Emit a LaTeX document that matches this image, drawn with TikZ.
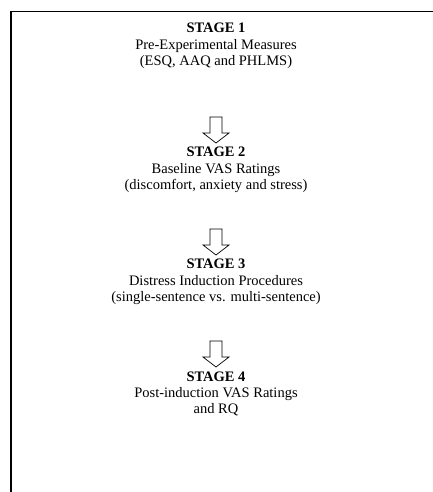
\documentclass[tikz,border=0pt]{standalone}
\usepackage{fontspec}
\setmainfont{Liberation Serif}
\begin{document}
\begin{tikzpicture}[x=1pt,y=1pt,
  stagetext/.style={align=center,inner sep=0pt,font=\fontsize{14.5}{16.2}\selectfont},
  blockarrow/.style={draw=black,line width=0.7pt,fill=white}]
\useasboundingbox (0,0) rectangle (433,-492);
\draw[line width=1.8pt] (433,-11.5) -- (11,-11.5) -- (11,-492);
\def\cx{216}
\node[stagetext,anchor=north] (s1) at (\cx,-23) {\textbf{STAGE 1}\\Pre-Experimental Measures\\(ESQ, AAQ and PHLMS)};
\node[stagetext,anchor=north] (s2) at (\cx,-147) {\textbf{STAGE 2}\\Baseline VAS Ratings\\(discomfort, anxiety and stress)};
\node[stagetext,anchor=north] (s3) at (\cx,-259) {\textbf{STAGE 3}\\Distress Induction Procedures\\(single-sentence vs. multi-sentence)};
\node[stagetext,anchor=north] (s4) at (\cx,-371.5) {\textbf{STAGE 4}\\Post-induction VAS Ratings\\and RQ};
\foreach \y [count=\i] in {117,229,341}{
  \draw[blockarrow] (\cx-6,-\y) -- (\cx+6,-\y) -- (\cx+6,-\y-16) -- (\cx+13,-\y-16) -- (\cx,-\y-26) -- (\cx-13,-\y-16) -- (\cx-6,-\y-16) -- cycle;
}
\end{tikzpicture}
\end{document}
